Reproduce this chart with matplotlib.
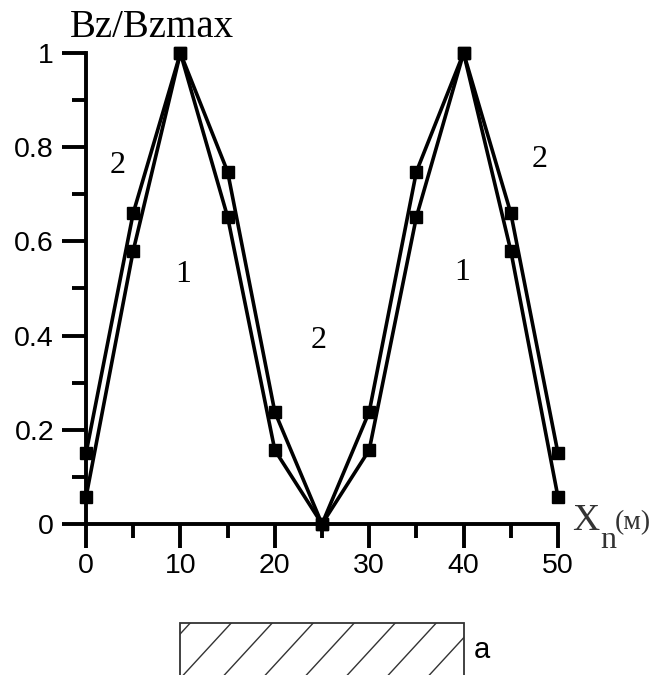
import matplotlib
matplotlib.use("Agg")
import matplotlib.pyplot as plt
from matplotlib.patches import Rectangle

# distance along the plate, m
x_pos = [0, 5, 10, 15, 20, 25, 30, 35, 40, 45, 50]
# curve 1 (inner) and curve 2 (outer), Bz/Bzmax
curve_1 = [0.057, 0.58, 1.0, 0.652, 0.157, 0.0, 0.157, 0.652, 1.0, 0.58, 0.057]
curve_2 = [0.15, 0.66, 1.0, 0.748, 0.238, 0.0, 0.238, 0.748, 1.0, 0.66, 0.15]

x_ticks = [0, 10, 20, 30, 40, 50]
y_ticks = [0, 0.2, 0.4, 0.6, 0.8, 1.0]
y_tick_labels = ["0", "0.2", "0.4", "0.6", "0.8", "1"]

# curve numbers written on the chart: (x, y, text)
curve_labels = [(3.3, 0.762, "2"), (10.3, 0.529, "1"), (24.6, 0.39, "2"),
                (39.9, 0.535, "1"), (48.1, 0.773, "2")]

plate_start, plate_end = 10, 40

W, H = 665, 675
fig = plt.figure(figsize=(W / 100, H / 100), dpi=100)
ax = fig.add_axes([86 / W, 1 - 524 / H, (558 - 86) / W, (524 - 53) / H])

for ys in (curve_2, curve_1):
    ax.plot(x_pos, ys, color="black", lw=2.6, marker="s", ms=8,
            mec="black", mfc="black", clip_on=False, zorder=3)

ax.set_xlim(0, 50)
ax.set_ylim(0, 1)
ax.spines["top"].set_visible(False)
ax.spines["right"].set_visible(False)
for s in ("left", "bottom"):
    ax.spines[s].set_linewidth(2.8)

ax.set_xticks(x_ticks)
ax.set_xticks([5, 15, 25, 35, 45], minor=True)
ax.set_yticks(y_ticks)
ax.set_yticklabels(y_tick_labels)
ax.set_yticks([0.1, 0.3, 0.5, 0.7, 0.9], minor=True)
ax.tick_params(which="major", direction="out", length=17, width=2.8,
               labelsize=20.5, pad=6)
ax.tick_params(which="minor", direction="out", length=10, width=2.8)
ax.tick_params(axis="x", which="major", pad=4)
for lab in ax.get_xticklabels() + ax.get_yticklabels():
    lab.set_family("Liberation Sans")

serif = "Liberation Serif"
for lx, ly, t in curve_labels:
    ax.text(lx, ly, t, fontsize=23, family=serif, ha="center", va="center")

ax.text(-1.7, 1.034, "Bz/Bzmax", fontsize=28, family=serif, ha="left",
        va="baseline", clip_on=False)
ax.text(51.5, 0.006, "X", fontsize=27, family=serif, ha="left", va="center",
        color="#333333", clip_on=False)
ax.text(54.5, -0.036, "n", fontsize=23, family=serif, ha="left",
        va="center", color="#333333", clip_on=False)
ax.text(56.0, 0.002, "(м)", fontsize=20, family=serif, ha="left",
        va="center", color="#333333", clip_on=False)

# hatched plate under the chart, drawn in pixel units of its own axes
pl = (plate_start - 0) * (558 - 86) / 50 + 86
pr = (plate_end - 0) * (558 - 86) / 50 + 86
ph = H - 623
pax = fig.add_axes([pl / W, 0, (pr - pl) / W, ph / H])
pax.set_xlim(0, pr - pl)
pax.set_ylim(0, ph)
pax.axis("off")
box = Rectangle((0, -5), pr - pl, ph + 5, fill=False, ec="#333333", lw=1.3,
                clip_on=False)
pax.add_patch(box)
step = 41
k = -2
while k * step < pr - pl + ph:
    x0 = k * step + 3
    ln, = pax.plot([x0, x0 + ph * 0.92], [0, ph], color="#333333", lw=1.0)
    ln.set_clip_path(box)
    k += 1
fig.text((pr + 10) / W, 1 - 650 / H, "a", fontsize=21, family="Liberation Sans",
         ha="left", va="center")

fig.savefig("out.png", dpi=100)
